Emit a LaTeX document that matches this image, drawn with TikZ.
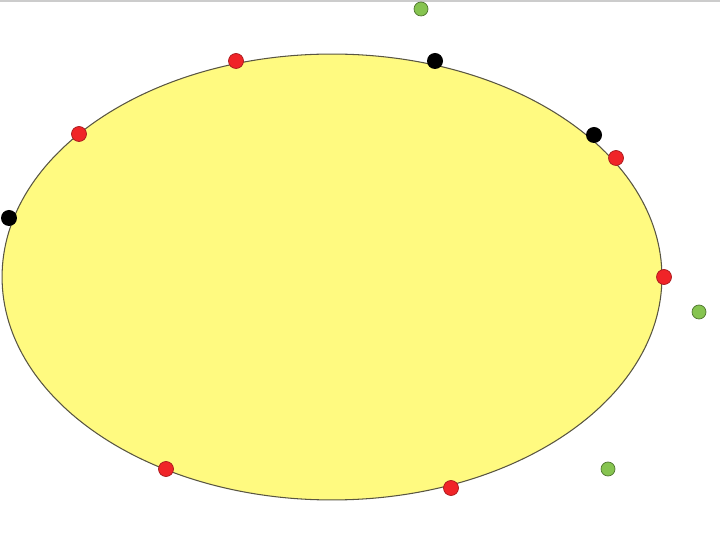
\documentclass[tikz,border=0pt]{standalone}
\usepackage{tikz}
\usetikzlibrary{shapes.geometric}

\definecolor{fieldyellow}{RGB}{255,250,128}
\definecolor{dotred}{RGB}{240,36,40}
\definecolor{dotgreen}{RGB}{134,196,80}
\tikzset{
  dot/.style={circle,inner sep=0pt,minimum size=0.3cm},
  reddot/.style={dot,fill=dotred,draw=dotred!70!black,line width=0.4pt},
  blackdot/.style={dot,fill=black,minimum size=0.32cm},
  greendot/.style={dot,fill=dotgreen,draw=dotgreen!60!black,line width=0.4pt,minimum size=0.28cm}
}

\begin{document}
\begin{tikzpicture}[x=0.02cm,y=-0.02cm]
\useasboundingbox (0,0) rectangle (720,553);
\draw[gray!40,line width=0.8pt] (0,1) -- (720,1);

\node[ellipse,draw=black!75!yellow,fill=fieldyellow,line width=0.6pt,
      minimum width=13.2cm,minimum height=8.92cm] (field) at (332,277) {};

\node[blackdot] (b_1) at (435,61) {};
\node[blackdot] (b_2) at (594,135) {};
\node[blackdot] (b_3) at (9,218) {};

\node[reddot] (r_1) at (236,61) {};
\node[reddot] (r_2) at (79,134) {};
\node[reddot] (r_3) at (616,158) {};
\node[reddot] (r_4) at (664,277) {};
\node[reddot] (r_5) at (166,469) {};
\node[reddot] (r_6) at (451,488) {};

\node[greendot] (g_1) at (421,9) {};
\node[greendot] (g_2) at (699,312) {};
\node[greendot] (g_3) at (608,469) {};
\end{tikzpicture}
\end{document}
